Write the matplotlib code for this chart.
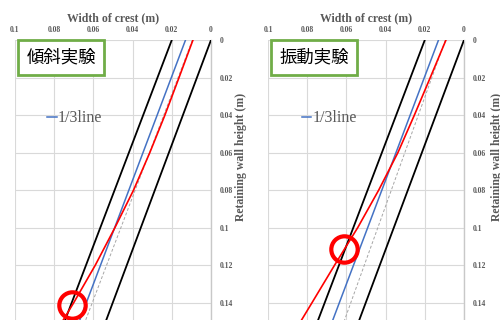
import matplotlib
matplotlib.use("Agg")
from matplotlib import pyplot as plt

# depth along the wall (m) and crest width (m)
h_ends = [0, 0.1495]
black_left = [0.020, 0.0745]
black_right = [0.0, 0.0535]
blue_line = [0.013, 0.067]
gray_tilt = [0.0095, 0.064]
gray_vib = [0.0095, 0.061]

h_red = [0, 0.02, 0.04, 0.06, 0.08, 0.10, 0.12, 0.14, 0.1495]
red_tilt = [0.0092, 0.0163, 0.0235, 0.0312, 0.0395, 0.0490, 0.0590, 0.0700, 0.0755]
red_vib = [0.0092, 0.0172, 0.0253, 0.0337, 0.0435, 0.0542, 0.0660, 0.0775, 0.0830]

# red circles (x, h)
circle_tilt = (0.0709, 0.1413)
circle_vib = (0.0612, 0.1116)

titles = ['傾斜実験', '振動実験']
x_ticks = [0.1, 0.08, 0.06, 0.04, 0.02, 0]
x_labels = ['0.1', '0.08', '0.06', '0.04', '0.02', '0']
y_ticks = [0, 0.02, 0.04, 0.06, 0.08, 0.1, 0.12, 0.14]
y_labels = ['0', '0.02', '0.04', '0.06', '0.08', '0.1', '0.12', '0.14']

serif = 'Liberation Serif'
txt_gray = '#595959'
grid_gray = '#D9D9D9'

fig = plt.figure(figsize=(5, 3.2), dpi=100)
ax1 = fig.add_axes([0.03, 0, 0.392, 0.875])
ax2 = fig.add_axes([0.536, 0, 0.392, 0.875])

panels = [
    (ax1, gray_tilt, red_tilt, circle_tilt, titles[0], 0.163, 1.155),
    (ax2, gray_vib, red_vib, circle_vib, titles[1], 0.173, 1.17),
]

for ax, gray, red, circ, title, leg_x, ylab_x in panels:
    ax.plot(gray, h_ends, color='#A6A6A6', lw=0.7, ls=(0, (3, 2)), zorder=2)
    ax.plot(black_left, h_ends, color='black', lw=1.3, zorder=3)
    ax.plot(black_right, h_ends, color='black', lw=1.3, zorder=3)
    ax.plot(blue_line, h_ends, color='#4472C4', lw=1.1, zorder=4, label='1/3line')
    ax.plot(red, h_red, color='#FF0000', lw=1.2, zorder=5)
    ax.plot([circ[0]], [circ[1]], marker='o', ms=19, mfc='none', mec='#FF0000',
            mew=3, zorder=6, clip_on=False)

    ax.set_xlim(0.1, 0)
    ax.set_ylim(0.1493, 0)
    ax.set_xticks(x_ticks)
    ax.set_xticklabels(x_labels)
    ax.set_yticks(y_ticks)
    ax.set_yticklabels(y_labels)
    ax.xaxis.tick_top()
    ax.yaxis.tick_right()
    ax.tick_params(axis='x', length=0, pad=4, labelsize=5.5, labelcolor=txt_gray)
    ax.tick_params(axis='y', length=0, pad=6, labelsize=5.5, labelcolor=txt_gray)
    for lab in ax.get_xticklabels() + ax.get_yticklabels():
        lab.set_fontfamily(serif)
        lab.set_fontweight('bold')

    ax.xaxis.set_label_position('top')
    ax.set_xlabel('Width of crest (m)', family=serif, fontweight='bold',
                  fontsize=8.5, color=txt_gray, labelpad=4)
    ax.text(ylab_x, 0.582, 'Retaining wall height (m)', transform=ax.transAxes,
            rotation=90, ha='center', va='center', family=serif,
            fontweight='bold', fontsize=8.5, color=txt_gray, clip_on=False)

    ax.grid(True, color=grid_gray, lw=0.8)
    ax.set_axisbelow(True)
    for side in ['top', 'left', 'bottom']:
        ax.spines[side].set_visible(False)
    ax.spines['right'].set_color('#C8C8C8')
    ax.spines['right'].set_linewidth(1)

    ax.text(0.235, 0.9375, title, transform=ax.transAxes, ha='center', va='center',
            family=['Noto Sans CJK JP', 'DejaVu Sans'], fontsize=12.5, color='black',
            zorder=7,
            bbox=dict(boxstyle='square,pad=0.5', fc='white', ec='#70AD47', lw=2))

    ax.legend(loc='center left', bbox_to_anchor=(leg_x, 0.721), frameon=False,
              borderpad=0, borderaxespad=0, handlelength=0.6, handletextpad=0.1,
              prop={'family': serif, 'size': 11.5}, labelcolor=txt_gray)

fig.savefig('out.png', dpi=100)
